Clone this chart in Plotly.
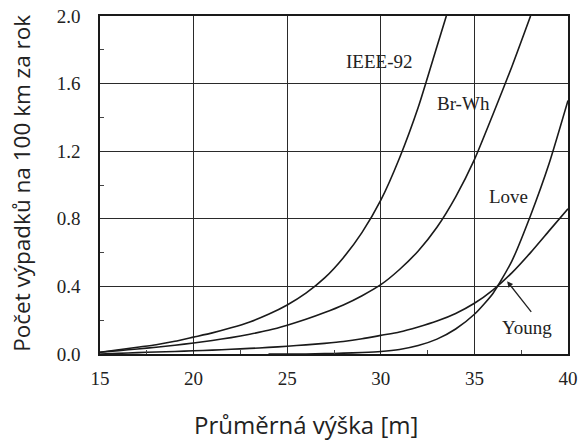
import plotly.graph_objects as go

# Data
x_ieee = [15, 16, 17, 18, 19, 20, 21, 22, 23, 24, 25, 26, 27, 28, 29, 30, 31, 32, 33, 33.5]
y_ieee = [0.01, 0.025, 0.04, 0.055, 0.075, 0.10, 0.125, 0.155, 0.19, 0.235, 0.29, 0.36, 0.45,
          0.57, 0.72, 0.91, 1.16, 1.46, 1.82, 2.0]

x_brwh = [15, 16, 17, 18, 19, 20, 21, 22, 23, 24, 25, 26, 27, 28, 29, 30, 31, 32, 33, 34, 35, 36, 37, 38]
y_brwh = [0.01, 0.02, 0.03, 0.04, 0.052, 0.065, 0.08, 0.097, 0.117, 0.14, 0.17, 0.205, 0.245,
          0.29, 0.345, 0.41, 0.50, 0.61, 0.75, 0.93, 1.15, 1.42, 1.70, 2.0]

x_love = [24, 25, 26, 27, 28, 29, 30, 31, 32, 33, 34, 35, 36, 37, 38, 39, 40]
y_love = [0.0, 0.0, 0.0, 0.002, 0.005, 0.009, 0.015, 0.027, 0.05, 0.088, 0.148, 0.235, 0.36,
          0.55, 0.82, 1.13, 1.5]

x_young = [15, 16, 17, 18, 19, 20, 21, 22, 23, 24, 25, 26, 27, 28, 29, 30, 31, 32, 33, 34, 35,
           36, 37, 38, 39, 40]
y_young = [0.0, 0.004, 0.008, 0.012, 0.015, 0.019, 0.023, 0.028, 0.033, 0.039, 0.046, 0.054,
           0.063, 0.074, 0.09, 0.11, 0.13, 0.16, 0.195, 0.24, 0.30, 0.38, 0.48, 0.60, 0.73, 0.86]

x_ticks = [15, 20, 25, 30, 35, 40]
y_ticks = [0.0, 0.4, 0.8, 1.2, 1.6, 2.0]
y_tick_labels = ["0.0", "0.4", "0.8", "1.2", "1.6", "2.0"]

series = [
    ("IEEE-92", x_ieee, y_ieee),
    ("Br-Wh", x_brwh, y_brwh),
    ("Love", x_love, y_love),
    ("Young", x_young, y_young),
]

fig = go.Figure()
for name, xs, ys in series:
    fig.add_trace(go.Scatter(x=xs, y=ys, mode="lines", name=name,
                             line=dict(color="#1a1a1a", width=1.6, shape="spline", smoothing=0.6),
                             showlegend=False))

serif = "Liberation Serif, Times New Roman, serif"
sans = "Open Sans, Noto Sans, sans-serif"
lab_font = dict(family=serif, size=19, color="#222")

fig.update_layout(
    width=586, height=448,
    margin=dict(l=100, r=18, t=16, b=94),
    paper_bgcolor="white", plot_bgcolor="white",
    xaxis=dict(range=[15, 40], tickvals=x_ticks, ticktext=[str(v) for v in x_ticks],
               showgrid=True, gridcolor="#2a2a2a", gridwidth=1.3,
               showline=True, linecolor="#1a1a1a", linewidth=1.5, mirror=True,
               ticks="", zeroline=False, automargin=False, ticklabelstandoff=6,
               ticklabeloverflow="allow",
               minor=dict(tickvals=[17.5, 22.5, 27.5, 32.5, 37.5], ticks="inside", ticklen=4,
                          tickcolor="#444", showgrid=False),
               tickfont=dict(family=serif, size=19, color="#222")),
    yaxis=dict(range=[0, 2.0], tickvals=y_ticks, ticktext=y_tick_labels,
               showgrid=True, gridcolor="#2a2a2a", gridwidth=1.3,
               showline=True, linecolor="#1a1a1a", linewidth=1.5, mirror=True,
               ticks="", zeroline=False, automargin=False, ticklabelstandoff=14,
               ticklabeloverflow="allow",
               minor=dict(tickvals=[0.2, 0.6, 1.0, 1.4, 1.8], ticks="inside", ticklen=4,
                          tickcolor="#444", showgrid=False),
               tickfont=dict(family=serif, size=19, color="#222")),
    annotations=[
        dict(x=29.9, y=1.73, xref="x", yref="y", text="IEEE-92", showarrow=False, font=lab_font),
        dict(x=34.4, y=1.48, xref="x", yref="y", text="Br-Wh", showarrow=False, font=lab_font),
        dict(x=36.8, y=0.93, xref="x", yref="y", text="Love", showarrow=False, font=lab_font),
        dict(x=37.8, y=0.155, xref="x", yref="y", text="Young", showarrow=False, font=lab_font),
        dict(x=36.75, y=0.43, xref="x", yref="y", ax=38.1, ay=0.24, axref="x", ayref="y",
             text="", showarrow=True, arrowhead=2, arrowsize=0.9, arrowwidth=1.3, arrowcolor="#222"),
        dict(x=-0.167, y=0.506, xref="paper", yref="paper", text="Počet výpadků na 100 km za rok",
             textangle=-90, showarrow=False, xanchor="center", yanchor="middle",
             font=dict(family=sans, size=22.5, color="#222")),
        dict(x=0.44, y=-0.21, xref="paper", yref="paper", text="Průměrná výška [m]",
             showarrow=False, xanchor="center", yanchor="middle",
             font=dict(family=sans, size=24, color="#222")),
    ],
)

fig.write_html("out.html", config={"displayModeBar": False},
               post_script="document.body.style.margin='0';")
